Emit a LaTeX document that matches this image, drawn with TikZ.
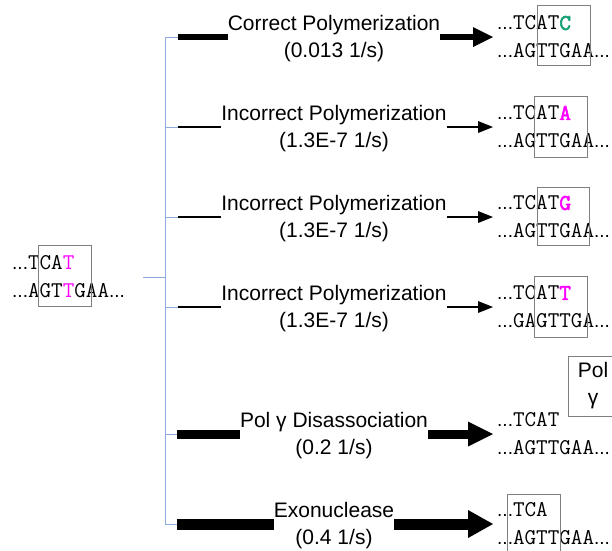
\documentclass[tikz,border=0pt]{standalone}
\usepackage{fontspec}
\setmainfont{Liberation Sans}
\newfontfamily\dnafont{Latin Modern Mono}
\newfontfamily\dnabold{Latin Modern Mono}[FakeBold=2.5]
\usetikzlibrary{arrows.meta}
\definecolor{treeblue}{HTML}{8FAADC}
\definecolor{boxgray}{HTML}{7F7F7F}
\definecolor{mispair}{HTML}{FF00FF}
\definecolor{newbase}{HTML}{13A077}
\newcommand{\seq}[1]{{\dnafont #1}}
\newcommand{\added}[2]{\textcolor{#1}{\dnabold #2}}
\newcommand{\ellip}{{\fontsize{19}{28}\selectfont ...}}

\begin{document}
\begin{tikzpicture}[
        x=1pt, y=-1pt,
        tree/.style={draw=treeblue, line width=0.9pt},
        reaction/.style={
            font=\fontsize{21}{27}\selectfont,
            align=center,
            inner sep=0pt
        },
        strand/.style={
            font=\fontsize{22.5}{28}\selectfont,
            align=left,
            inner sep=0pt,
            anchor=west
        },
        window/.style={draw=boxgray, line width=0.9pt},
        stem/.style={line width=#1},
        flow/.style n args={3}{line width=#1, shorten >=4pt,
            -{Triangle[length=#2, width=#3, line width=0pt]}}
    ]
        \useasboundingbox (0,0) rectangle (612,550);

        % template strand
        \node[strand] (template) at (12,277) {\ellip\seq{TCA}\textcolor{mispair}{\seq{T}}\\\ellip\seq{AGT}\textcolor{mispair}{\seq{T}}\seq{GAA}\ellip};
        \draw[window] (38,245) rectangle (91,306);

        % branching tree
        \coordinate (root) at (143,277);
        \coordinate (trunk) at (165,277);
        \coordinate (b1) at (165,37);
        \coordinate (b2) at (165,127);
        \coordinate (b3) at (165,217);
        \coordinate (b4) at (165,307);
        \coordinate (b5) at (165,434);
        \coordinate (b6) at (165,524);
        \coordinate (s1) at (178,37);
        \coordinate (s2) at (178,127);
        \coordinate (s3) at (178,217);
        \coordinate (s4) at (178,307);
        \coordinate (s5) at (177,434);
        \coordinate (s6) at (177,524);

        \draw[tree] (root) -- (trunk);
        \draw[tree] (b1) -- (b6);
        \draw[tree] (b1) -- (s1);
        \draw[tree] (b2) -- (s2);
        \draw[tree] (b3) -- (s3);
        \draw[tree] (b4) -- (s4);
        \draw[tree] (b5) -- (s5);
        \draw[tree] (b6) -- (s6);

        % reactions
        \node[reaction] (correct) at (334,39) {Correct Polymerization\\(0.013 1/s)};
        \node[reaction] (wrongA) at (334,129) {Incorrect Polymerization\\(1.3E-7 1/s)};
        \node[reaction] (wrongG) at (334,219) {Incorrect Polymerization\\(1.3E-7 1/s)};
        \node[reaction] (wrongT) at (334,309) {Incorrect Polymerization\\(1.3E-7 1/s)};
        \node[reaction] (release) at (334,436) {Pol γ Disassociation\\(0.2 1/s)};
        \node[reaction] (exo) at (334,526) {Exonuclease\\(0.4 1/s)};

        % products
        \node[strand] (addC) at (497,37) {\ellip\seq{TCAT}\added{newbase}{C}\\\ellip\seq{AGTTGAA}\ellip};
        \node[strand] (addA) at (497,127) {\ellip\seq{TCAT}\added{mispair}{A}\\\ellip\seq{AGTTGAA}\ellip};
        \node[strand] (addG) at (497,217) {\ellip\seq{TCAT}\added{mispair}{G}\\\ellip\seq{AGTTGAA}\ellip};
        \node[strand] (addT) at (497,307) {\ellip\seq{TCAT}\added{mispair}{T}\\\ellip\seq{GAGTTGA}\ellip};
        \node[strand] (free) at (497,434) {\ellip\seq{TCAT}\\\ellip\seq{AGTTGAA}\ellip};
        \node[strand] (cut) at (497,524) {\ellip\seq{TCA}\\\ellip\seq{AGTTGAA}\ellip};
        \node[draw=boxgray, line width=0.9pt, font=\fontsize{21}{27}\selectfont,
            align=center, inner sep=0pt, minimum width=50pt, minimum height=60pt]
            (polg) at (593,386) {Pol\\γ};

        \draw[window] (537,5) rectangle (590,65);
        \draw[window] (534,96) rectangle (587,157);
        \draw[window] (537,187) rectangle (589,245);
        \draw[window] (534,276) rectangle (587,337);
        \draw[window] (507,494) rectangle (560,556);

        % rate-weighted stems and arrows
        \draw[stem=6pt] (s1) -- (s1 -| correct.west);
        \draw[flow={6pt}{20pt}{20pt}] (correct.east |- s1) -- (addC.west);
        \draw[stem=2pt] (s2) -- (s2 -| wrongA.west);
        \draw[flow={2pt}{15pt}{12pt}] (wrongA.east |- s2) -- (addA.west);
        \draw[stem=2pt] (s3) -- (s3 -| wrongG.west);
        \draw[flow={2pt}{15pt}{12pt}] (wrongG.east |- s3) -- (addG.west);
        \draw[stem=2pt] (s4) -- (s4 -| wrongT.west);
        \draw[flow={2pt}{15pt}{12pt}] (wrongT.east |- s4) -- (addT.west);
        \draw[stem=9pt] (s5) -- (s5 -| release.west);
        \draw[flow={9pt}{25pt}{25pt}] (release.east |- s5) -- (free.west);
        \draw[stem=11pt] (s6) -- (s6 -| exo.west);
        \draw[flow={11pt}{25pt}{28pt}] (exo.east |- s6) -- (cut.west);
    \end{tikzpicture}
\end{document}
